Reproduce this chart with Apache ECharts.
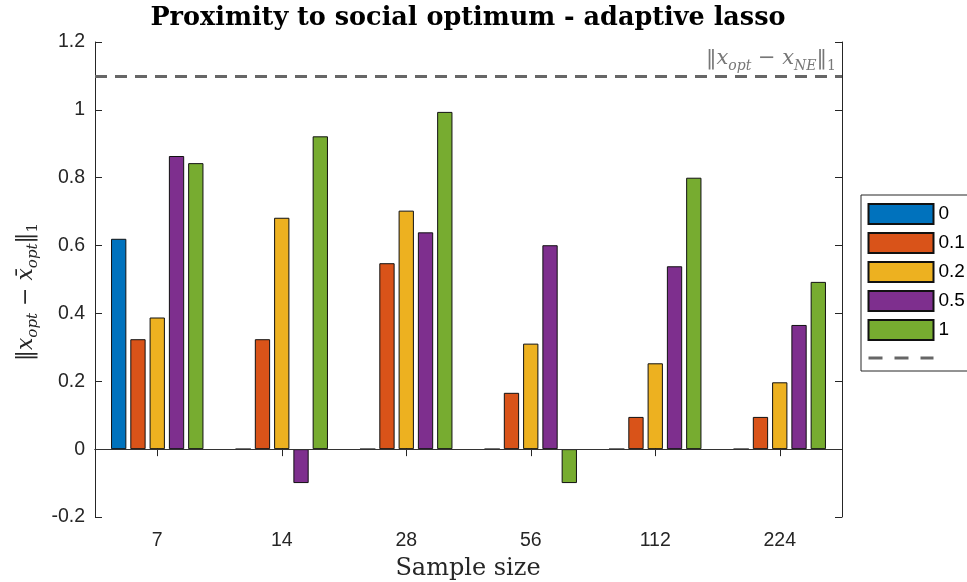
<!DOCTYPE html>
<html><head><meta charset="utf-8">
<script src="https://cdn.jsdelivr.net/npm/echarts@6/dist/echarts.min.js"></script>
<style>html,body{margin:0;padding:0;background:#fff}#c{width:967px;height:582px}</style>
</head><body><div id="c"></div>
<script>
const categories = ['7', '14', '28', '56', '112', '224'];
const seriesNames = ['0', '0.1', '0.2', '0.5', '1'];
const val0  = [0.62, 0, 0, 0, 0, 0];
const val01 = [0.324, 0.324, 0.548, 0.166, 0.095, 0.095];
const val02 = [0.388, 0.682, 0.703, 0.311, 0.253, 0.197];
const val05 = [0.864, -0.1, 0.639, 0.601, 0.539, 0.366];
const val1  = [0.843, 0.922, 0.994, -0.1, 0.80, 0.493];
const neValue = 1.102;
const yMin = -0.2, yMax = 1.2, yStep = 0.2;

const colors = ['#0072BD', '#D95319', '#EDB120', '#7E2F8E', '#77AC30'];
const allVals = [val0, val01, val02, val05, val1];

const chart = echarts.init(document.getElementById('c'), null, {renderer: 'canvas'});
const axisColor = '#262626';
const serif = '"DejaVu Serif", "Liberation Serif", serif';
const sans = '"Liberation Sans", Arial, sans-serif';

const barSeries = seriesNames.map((n, i) => ({
  name: n, type: 'bar', data: allVals[i],
  barWidth: 15.3, barGap: '26%',
  itemStyle: {color: colors[i], borderColor: '#111', borderWidth: 1},
  emphasis: {disabled: true},
  z: 3
}));
barSeries[0].markLine = {
  silent: true, symbol: 'none', animation: false,
  label: {show: false},
  lineStyle: {color: '#333', width: 1, type: 'solid'},
  data: [{yAxis: 0}]
};

const neSeries = {
  name: 'NE', type: 'line', data: [], symbol: 'none', showSymbol: false,
  lineStyle: {color: '#666', width: 3, type: [12, 8]},
  itemStyle: {color: '#666', opacity: 0},
  markLine: {
    silent: true, symbol: 'none', animation: false,
    label: {show: false},
    lineStyle: {color: '#666', width: 3, type: [12, 8], opacity: 1},
    data: [{yAxis: neValue}]
  },
  z: 4
};

function richSet(big, small, color) {
  return {
    n: {fontFamily: serif, fontStyle: 'italic', fontSize: big, lineHeight: big + 8, verticalAlign: 'middle', color: color},
    u: {fontFamily: serif, fontSize: big, lineHeight: big + 8, verticalAlign: 'middle', color: color},
    s: {fontFamily: serif, fontStyle: 'italic', fontSize: small, lineHeight: small + 2, verticalAlign: 'bottom', color: color},
    su: {fontFamily: serif, fontSize: small, lineHeight: small + 2, verticalAlign: 'bottom', color: color}
  };
}

chart.setOption({
  animation: false,
  backgroundColor: '#fff',
  color: colors,
  grid: {left: 95, right: 125, top: 42, bottom: 65, containLabel: false},
  xAxis: [{
    type: 'category', data: categories, position: 'bottom',
    axisLine: {show: true, lineStyle: {color: axisColor, width: 1}},
    axisTick: {show: true, inside: true, alignWithLabel: true, length: 7, lineStyle: {color: axisColor}},
    axisLabel: {color: '#262626', fontFamily: sans, fontSize: 19.5, margin: 14},
    splitLine: {show: false}
  }, {
    type: 'category', data: categories, position: 'top',
    axisLine: {show: true, lineStyle: {color: axisColor, width: 1}},
    axisTick: {show: true, inside: true, alignWithLabel: true, length: 7, lineStyle: {color: axisColor}},
    axisLabel: {show: false},
    splitLine: {show: false}
  }],
  yAxis: [{
    type: 'value', min: yMin, max: yMax, interval: yStep, position: 'left',
    axisLine: {show: true, lineStyle: {color: axisColor, width: 1}},
    axisTick: {show: true, inside: true, length: 7, lineStyle: {color: axisColor}},
    axisLabel: {color: '#262626', fontFamily: sans, fontSize: 19.5, margin: 10,
      formatter: v => String(Math.round(v * 10) / 10)},
    splitLine: {show: false}
  }, {
    type: 'value', min: yMin, max: yMax, interval: yStep, position: 'right',
    axisLine: {show: true, lineStyle: {color: axisColor, width: 1}},
    axisTick: {show: true, inside: true, length: 7, lineStyle: {color: axisColor}},
    axisLabel: {show: false},
    splitLine: {show: false}
  }],
  legend: {
    orient: 'vertical', left: 861, top: 195,
    padding: [8, 6, 5, 6], itemWidth: 65, itemHeight: 20, itemGap: 7,
    borderColor: '#262626', borderWidth: 1, backgroundColor: '#fff',
    textStyle: {fontFamily: sans, fontSize: 19, color: '#000'},
    formatter: n => n === 'NE' ? '' : n,
    selectedMode: false,
    data: seriesNames.map(n => ({name: n, icon: 'rect'})).concat([{
      name: 'NE', itemStyle: {opacity: 0},
      lineStyle: {color: '#666', width: 3, type: [14, 12]}
    }])
  },
  series: barSeries.concat([neSeries]),
  graphic: [
    {type: 'text', x: 468, y: 18, style: {
      text: 'Proximity to social optimum - adaptive lasso',
      font: 'bold 25.5px ' + serif, fill: '#000',
      align: 'center', verticalAlign: 'middle', textAlign: 'center', textVerticalAlign: 'middle'}},
    {type: 'text', x: 468, y: 569, style: {
      text: 'Sample size',
      font: '24px ' + serif, fill: '#262626',
      align: 'center', verticalAlign: 'middle', textAlign: 'center', textVerticalAlign: 'middle'}},
    {type: 'text', x: 26, y: 292, rotation: Math.PI / 2, style: {
      text: '{u|‖}{n|x}{s|opt}{u| − }{n|x̄}{s|opt}{u|‖}{su|1}',
      rich: richSet(22, 15, '#262626'), fill: '#262626',
      align: 'center', verticalAlign: 'middle', textAlign: 'center', textVerticalAlign: 'middle'}},
    {type: 'text', x: 836, y: 59, style: {
      text: '{u|‖}{n|x}{s|opt}{u| − }{n|x}{s|NE}{u|‖}{su|1}',
      rich: richSet(21, 14, '#777'), fill: '#777',
      align: 'right', verticalAlign: 'middle', textAlign: 'right', textVerticalAlign: 'middle'}}
  ]
});
</script>
</body></html>
